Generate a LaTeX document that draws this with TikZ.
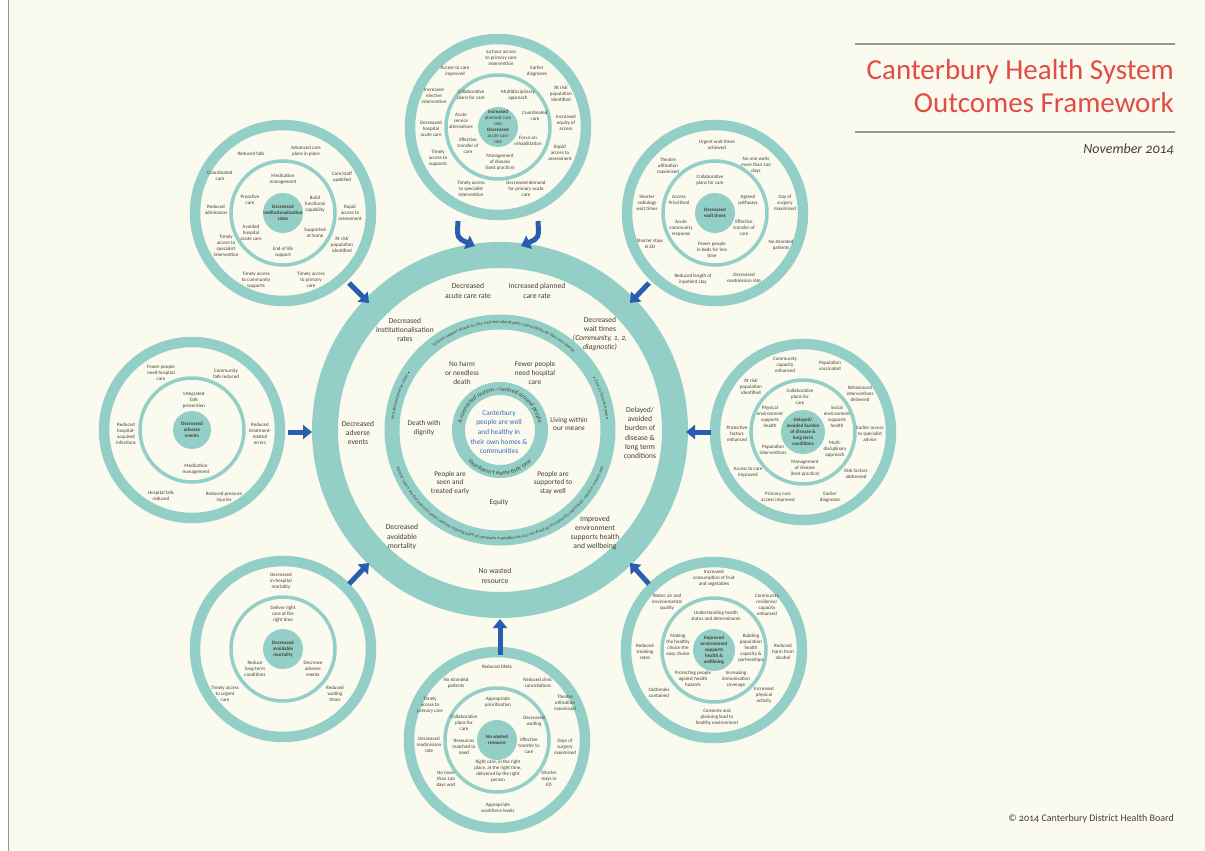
\documentclass[tikz,border=0pt]{standalone}
\usepackage{fontspec}
\setmainfont{Carlito}[Numbers=OldStyle]
\usetikzlibrary{arrows.meta,decorations.text}
\definecolor{cream}{RGB}{250,250,238}
\definecolor{tl}{RGB}{147,207,199}
\definecolor{txt}{RGB}{70,62,52}
\definecolor{blu}{RGB}{42,92,176}
\definecolor{cblue}{RGB}{62,104,184}
\definecolor{ttl}{RGB}{226,76,66}
\definecolor{rulegray}{RGB}{150,150,150}
\newcommand\rfont{\fontsize{4.3}{4.3}\selectfont\itshape\color{txt}}
\newcommand\ifont{\fontsize{6}{6}\selectfont\itshape\color{txt}}
\newcommand\ringtext[5]{\path[decorate,decoration={text along path,text align=center,text={#5}}] (#1) ++(#3:#2) arc[start angle=#3,end angle=#4,radius=#2];}
\newcommand\satring[2]{\draw[outring] (#1) circle[radius=88]; \draw[inring] (#1) circle[radius=52]; \fill[tl] (#1) circle[radius=#2];}
\tikzset{
 sl/.style={align=center, font=\fontsize{5}{5.9}\selectfont, text=txt, inner sep=0pt},
 dl/.style={align=center, font=\fontsize{5}{5.9}\selectfont\bfseries, text=txt, inner sep=0pt},
 cl/.style={align=center, font=\fontsize{7.6}{9.3}\selectfont, text=txt, inner sep=0pt},
 ml/.style={align=center, font=\fontsize{7.3}{8.6}\selectfont, text=txt, inner sep=0pt},
 outring/.style={draw=tl, line width=10.5pt},
 inring/.style={draw=tl, line width=3.5pt},
 barrow/.style={draw=blu, line width=5pt, -{Triangle[width=14pt,length=9pt]}},
}
\begin{document}
\begin{tikzpicture}[x=1pt,y=-1pt]
\useasboundingbox (0,0) rectangle (1205,851);
\fill[white] (0,0) rectangle (1205,851);
\fill[cream] (9,0) rectangle (1205,851);
\draw[rulegray, line width=1pt] (8.5,0) -- (8.5,851);

% centres
\coordinate (C) at (500,430);
\coordinate (T) at (498,127);
\coordinate (TL) at (283,213);
\coordinate (TR) at (715,213);
\coordinate (L) at (192,430);
\coordinate (R) at (803,432);
\coordinate (BL) at (283,649);
\coordinate (BR) at (714,650);
\coordinate (B) at (497,740);

% central rings
\draw[draw=tl, line width=26pt] (C) circle[radius=175];
\draw[draw=tl, line width=15pt] (C) circle[radius=108];
\draw[draw=tl, line width=13pt] (C) circle[radius=41.5];

\ringtext{C}{106.5}{-180}{-142}{|\rfont|(in a defined positive state) •}
\ringtext{C}{106.5}{-140}{-35}{|\rfont|Services support people to stay well and take greater responsibility for their own health}
\ringtext{C}{106.5}{-33}{-2}{|\rfont|• Care is closer to home •}
\ringtext{C}{110}{-182}{-358}{|\rfont|Primary care is the first point of contact and the ongoing point of continuity • Hospital services are freed up to respond to individuals' needs in a timely way}
\ringtext{C}{39}{-192}{12}{|\ifont|A connected system—centred around people}
\ringtext{C}{45}{-215}{-325}{|\ifont|that doesn't waste their time}

% central labels
\node[cl] (c1) at (468,291) {Decreased\\acute care rate};
\node[cl] (c2) at (537,291) {Increased planned\\care rate};
\node[cl] (c3) at (405,330) {Decreased\\institutionalisation\\rates};
\node[cl] (c4) at (600,334) {Decreased\\wait times\\\textit{(Community, 1, 2,}\\\textit{diagnostic)}};
\node[cl] (c5) at (358,433) {Decreased\\adverse\\events};
\node[cl] (c6) at (640,433) {Delayed/\\avoided\\burden of\\disease \&\\long term\\conditions};
\node[cl] (c7) at (402,537) {Decreased\\avoidable\\mortality};
\node[cl] (c8) at (595,533) {Improved\\environment\\supports health\\and wellbeing};
\node[cl] (c9) at (495,576) {No wasted\\resource};
\node[ml] (m1) at (462,373) {No harm\\or needless\\death};
\node[ml] (m2) at (535,373) {Fewer people\\need hospital\\care};
\node[ml] (m3) at (424,428) {Death with\\dignity};
\node[ml] (m4) at (569,424) {Living within\\our means};
\node[ml] (m5) at (450,483) {People are\\seen and\\treated early};
\node[ml] (m6) at (553,483) {People are\\supported to\\stay well};
\node[ml] (m7) at (499,503) {Equity};
\node[align=center, font=\fontsize{7.3}{9.6}\selectfont, text=cblue, inner sep=0pt] (core) at (499,432) {Canterbury\\people are well\\and healthy in\\their own homes \&\\communities};

% satellite rings
\satring{T}{20}
\satring{TL}{20}
\satring{TR}{20}
\satring{L}{19}
\satring{R}{22}
\satring{BL}{20}
\satring{BR}{21}
\satring{B}{20}

% top
\node[sl] (t1) at ([shift={(3,-69)}]T) {24 hour access\\to primary care\\intervention};
\node[sl] (t2) at ([shift={(-43,-56)}]T) {Access to care\\improved};
\node[sl] (t3) at ([shift={(39,-56)}]T) {Earlier\\diagnoses};
\node[sl] (t4) at ([shift={(-64,-31)}]T) {Increased\\elective\\intervention};
\node[sl] (t5) at ([shift={(63,-33)}]T) {‘At risk’\\population\\identified};
\node[sl] (t6) at ([shift={(-67,2)}]T) {Decreased\\hospital\\acute care};
\node[sl] (t7) at ([shift={(68,-4)}]T) {Increased\\equity of\\access};
\node[sl] (t8) at ([shift={(-60,31)}]T) {Timely\\access to\\supports};
\node[sl] (t9) at ([shift={(62,26)}]T) {Rapid\\access to\\assessment};
\node[sl] (t10) at ([shift={(-27,62)}]T) {Timely access\\to specialist\\intervention};
\node[sl] (t11) at ([shift={(28,62)}]T) {Decreased demand\\for primary acute\\care};
\node[sl] (t12) at ([shift={(-27,-32)}]T) {Collaborative\\plans for care};
\node[sl] (t13) at ([shift={(20,-32)}]T) {Multidisciplinary\\approach};
\node[sl] (t14) at ([shift={(-37,-6)}]T) {Acute\\service\\alternatives};
\node[sl] (t15) at ([shift={(37,-11)}]T) {Coordinated\\care};
\node[sl] (t16) at ([shift={(-30,19)}]T) {Effective\\transfer of\\care};
\node[sl] (t17) at ([shift={(30,14)}]T) {Focus on\\rehabilitation};
\node[sl] (t18) at ([shift={(2,35)}]T) {Management\\of disease\\(best practice)};
\node[sl] (td) at (T) {\textbf{Increased}\\planned care\\rate\\\textbf{Decreased}\\acute care\\rate};

% top-left
\node[sl] (tl1) at ([shift={(-32,-59)}]TL) {Reduced falls};
\node[sl] (tl2) at ([shift={(23,-62)}]TL) {Advanced care\\plans in place};
\node[sl] (tl3) at ([shift={(-63,-37)}]TL) {Coordinated\\care};
\node[sl] (tl4) at ([shift={(59,-36)}]TL) {Care/staff\\upskilled};
\node[sl] (tl5) at ([shift={(-67,-3)}]TL) {Reduced\\admissions};
\node[sl] (tl6) at ([shift={(67,0)}]TL) {Rapid\\access to\\assessment};
\node[sl] (tl7) at ([shift={(-57,33)}]TL) {Timely\\access to\\specialist\\intervention};
\node[sl] (tl8) at ([shift={(59,32)}]TL) {‘At risk’\\population\\identified};
\node[sl] (tl9) at ([shift={(-27,67)}]TL) {Timely access\\to community\\supports};
\node[sl] (tl10) at ([shift={(28,67)}]TL) {Timely access\\to primary\\care};
\node[sl] (tl11) at ([shift={(0,-34)}]TL) {Medication\\management};
\node[sl] (tl12) at ([shift={(-33,-13)}]TL) {Proactive\\care};
\node[sl] (tl13) at ([shift={(32,-9)}]TL) {Build\\functional\\capability};
\node[sl] (tl14) at ([shift={(-32,20)}]TL) {Avoided\\hospital\\acute care};
\node[sl] (tl15) at ([shift={(32,20)}]TL) {Supported\\at home};
\node[sl] (tl16) at ([shift={(0,39)}]TL) {End of life\\support};
\node[dl] (tld) at (TL) {Decreased\\institutionalisation\\rates};

% top-right
\node[sl] (tr1) at ([shift={(2,-68)}]TR) {Urgent wait times\\achieved};
\node[sl] (tr2) at ([shift={(-47,-47)}]TR) {Theatre\\utilisation\\maximised};
\node[sl] (tr3) at ([shift={(41,-48)}]TR) {No one waits\\more than 120\\days};
\node[sl] (tr4) at ([shift={(-5,-33)}]TR) {Collaborative\\plans for care};
\node[sl] (tr5) at ([shift={(-68,-10)}]TR) {Shorter\\radiology\\wait times};
\node[sl] (tr6) at ([shift={(-36,-13)}]TR) {Access\\Prioritised};
\node[sl] (tr7) at ([shift={(33,-13)}]TR) {Agreed\\pathways};
\node[sl] (tr8) at ([shift={(70,-10)}]TR) {Day of\\surgery\\maximised};
\node[sl] (tr9) at ([shift={(-34,15)}]TR) {Acute\\community\\response};
\node[sl] (tr10) at ([shift={(29,15)}]TR) {Effective\\transfer of\\care};
\node[sl] (tr11) at ([shift={(-65,31)}]TR) {Shorter stays\\in ED};
\node[sl] (tr12) at ([shift={(66,32)}]TR) {No stranded\\patients};
\node[sl] (tr13) at ([shift={(-3,37)}]TR) {Fewer people\\in beds for less\\time};
\node[sl] (tr14) at ([shift={(-22,66)}]TR) {Reduced length of\\inpatient stay};
\node[sl] (tr15) at ([shift={(29,65)}]TR) {Decreased\\readmission rate};
\node[dl] (trd) at (TR) {Decreased\\wait times};

% left
\node[sl] (l1) at ([shift={(-31,-57)}]L) {Fewer people\\need hospital\\care};
\node[sl] (l2) at ([shift={(34,-56)}]L) {Community\\falls reduced};
\node[sl] (l3) at ([shift={(2,-30)}]L) {Integrated\\falls\\prevention};
\node[sl] (l4) at ([shift={(-66,4)}]L) {Reduced\\hospital-\\acquired\\infections};
\node[sl] (l5) at ([shift={(68,4)}]L) {Reduced\\treatment-\\related\\errors};
\node[sl] (l6) at ([shift={(4,39)}]L) {Medication\\management};
\node[sl] (l7) at ([shift={(-31,66)}]L) {Hospital falls\\reduced};
\node[sl] (l8) at ([shift={(32,67)}]L) {Reduced pressure\\injuries};
\node[dl] (ld) at (L) {Decreased\\adverse\\events};

% right
\node[sl] (r1) at ([shift={(-18,-67)}]R) {Community\\capacity\\enhanced};
\node[sl] (r2) at ([shift={(27,-66)}]R) {Population\\vaccinated};
\node[sl] (r3) at ([shift={(-52,-45)}]R) {‘At risk’\\population\\identified};
\node[sl] (r4) at ([shift={(57,-38)}]R) {Behavioural\\interventions\\delivered};
\node[sl] (r5) at ([shift={(-3,-35)}]R) {Collaborative\\plans for\\care};
\node[sl] (r6) at ([shift={(-33,-15)}]R) {Physical\\environment\\supports\\health};
\node[sl] (r7) at ([shift={(34,-15)}]R) {Social\\environment\\supports\\health};
\node[sl] (r8) at ([shift={(-66,2)}]R) {Protective\\factors\\enhanced};
\node[sl] (r9) at ([shift={(67,2)}]R) {Earlier access\\to specialist\\advice};
\node[sl] (r10) at ([shift={(-30,18)}]R) {Population\\interventions};
\node[sl] (r11) at ([shift={(32,17)}]R) {Multi-\\disciplinary\\approach};
\node[sl] (r12) at ([shift={(2,36)}]R) {Management\\of disease\\(best practice)};
\node[sl] (r13) at ([shift={(-55,40)}]R) {Access to care\\improved};
\node[sl] (r14) at ([shift={(53,42)}]R) {Risk factors\\addressed};
\node[sl] (r15) at ([shift={(-25,65)}]R) {Primary care\\access improved};
\node[sl] (r16) at ([shift={(27,65)}]R) {Earlier\\diagnoses};
\node[dl] (rd) at (R) {Delayed/\\avoided burden\\of disease \&\\long term\\conditions};

% bottom-left
\node[sl] (bl1) at ([shift={(-2,-68)}]BL) {Decreased\\in-hospital\\mortality};
\node[sl] (bl2) at ([shift={(0,-35)}]BL) {Deliver right\\care at the\\right time};
\node[sl] (bl3) at ([shift={(-28,20)}]BL) {Reduce\\long-term\\conditions};
\node[sl] (bl4) at ([shift={(30,20)}]BL) {Decrease\\adverse\\events};
\node[sl] (bl5) at ([shift={(-58,45)}]BL) {Timely access\\to urgent\\care};
\node[sl] (bl6) at ([shift={(52,45)}]BL) {Reduced\\waiting\\times};
\node[dl] (bld) at (BL) {Decreased\\avoidable\\mortality};

% bottom-right
\node[sl] (br1) at ([shift={(0,-72)}]BR) {Increased\\consumption of fruit\\and vegetables};
\node[sl] (br2) at ([shift={(-47,-48)}]BR) {Water, air and\\environmental\\quality};
\node[sl] (br3) at ([shift={(53,-45)}]BR) {Community\\resilience/\\capacity\\enhanced};
\node[sl] (br4) at ([shift={(2,-34)}]BR) {Understanding health\\status and determinants};
\node[sl] (br5) at ([shift={(-36,-5)}]BR) {Making\\the healthy\\choice the\\easy choice};
\node[sl] (br6) at ([shift={(37,-2)}]BR) {Building\\population\\health\\capacity \&\\partnerships};
\node[sl] (br7) at ([shift={(-69,2)}]BR) {Reduced\\smoking\\rates};
\node[sl] (br8) at ([shift={(69,2)}]BR) {Reduced\\harm from\\alcohol};
\node[sl] (br9) at ([shift={(-21,29)}]BR) {Protecting people\\against health\\hazards};
\node[sl] (br10) at ([shift={(22,29)}]BR) {Increasing\\immunisation\\coverage};
\node[sl] (br11) at ([shift={(-55,43)}]BR) {Outbreaks\\contained};
\node[sl] (br12) at ([shift={(50,45)}]BR) {Increased\\physical\\activity};
\node[sl] (br13) at ([shift={(3,67)}]BR) {Consents and\\planning lead to\\healthy environment};
\node[dl] (brd) at (BR) {Improved\\environment\\supports\\health \&\\wellbeing};

% bottom
\node[sl] (b1) at ([shift={(0,-73)}]B) {Reduced DNAs};
\node[sl] (b2) at ([shift={(-41,-57)}]B) {No stranded\\patients};
\node[sl] (b3) at ([shift={(41,-57)}]B) {Reduced clinic\\cancellations};
\node[sl] (b4) at ([shift={(-67,-35)}]B) {Timely\\access to\\primary care};
\node[sl] (b5) at ([shift={(68,-37)}]B) {Theatre\\utilisation\\maximised};
\node[sl] (b6) at ([shift={(1,-38)}]B) {Appropriate\\prioritisation};
\node[sl] (b7) at ([shift={(-33,-17)}]B) {Collaborative\\plans for\\care};
\node[sl] (b8) at ([shift={(37,-19)}]B) {Decreased\\waiting};
\node[sl] (b9) at ([shift={(-68,5)}]B) {Decreased\\readmission\\rate};
\node[sl] (b10) at ([shift={(-33,7)}]B) {Resources\\matched to\\need};
\node[sl] (b11) at ([shift={(32,6)}]B) {Effective\\transfer to\\care};
\node[sl] (b12) at ([shift={(68,7)}]B) {Days of\\surgery\\maximised};
\node[sl] (b13) at ([shift={(1,31)}]B) {Right care, in the right\\place, at the right time,\\delivered by the right\\person};
\node[sl] (b14) at ([shift={(-51,39)}]B) {No more\\than 120\\days wait};
\node[sl] (b15) at ([shift={(52,39)}]B) {Shorter\\stays in\\ED};
\node[sl] (b16) at ([shift={(1,68)}]B) {Appropriate\\workforce levels};
\node[dl] (bd) at (B) {No wasted\\resource};

% arrows
\coordinate (aT1s) at (458,221); \coordinate (aT1e) at (475,246);
\coordinate (aT2s) at (538,221); \coordinate (aT2e) at (521,246);
\coordinate (aTLs) at (349,283); \coordinate (aTLe) at (369,303);
\coordinate (aTRs) at (649,283); \coordinate (aTRe) at (630,303);
\coordinate (aLs) at (288,432); \coordinate (aLe) at (312,432);
\coordinate (aRs) at (711,432); \coordinate (aRe) at (686,432);
\coordinate (aBLs) at (349,584); \coordinate (aBLe) at (369,563);
\coordinate (aBRs) at (649,584); \coordinate (aBRe) at (630,563);
\coordinate (aBs) at (500,655); \coordinate (aBe) at (500,619);
\draw[barrow] (aT1s) .. controls (457,238) .. (aT1e);
\draw[barrow] (aT2s) .. controls (539,238) .. (aT2e);
\draw[barrow] (aTLs) -- (aTLe);
\draw[barrow] (aTRs) -- (aTRe);
\draw[barrow] (aLs) -- (aLe);
\draw[barrow] (aRs) -- (aRe);
\draw[barrow] (aBLs) -- (aBLe);
\draw[barrow] (aBRs) -- (aBRe);
\draw[barrow] (aBs) -- (aBe);

% title
\coordinate (r1a) at (855,44); \coordinate (r1b) at (1175,44);
\coordinate (r2a) at (855,132); \coordinate (r2b) at (1175,132);
\draw[rulegray, line width=1.1pt] (r1a) -- (r1b);
\draw[rulegray, line width=1.1pt] (r2a) -- (r2b);
\node[anchor=base east, font=\fontsize{29}{32}\selectfont, text=ttl, inner sep=0pt] (title1) at (1174,80) {Canterbury Health System};
\node[anchor=base east, font=\fontsize{29}{32}\selectfont, text=ttl, inner sep=0pt] (title2) at (1174,113) {Outcomes Framework};
\node[anchor=base east, font=\fontsize{14}{16}\selectfont\itshape, text=txt, inner sep=0pt] (date) at (1174,153) {November 2014};
\node[anchor=base east, font=\fontsize{10}{12}\selectfont, text=txt, inner sep=0pt] (copy) at (1174,821) {© 2014 Canterbury District Health Board};
\end{tikzpicture}
\end{document}
